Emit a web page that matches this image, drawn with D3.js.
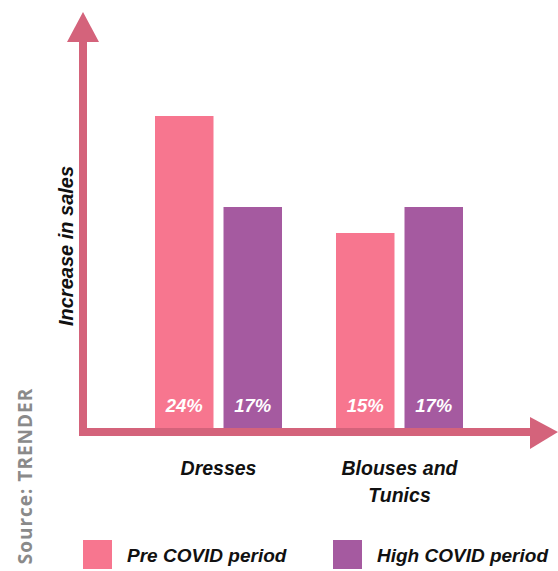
<!DOCTYPE html>
<html>
<head>
<meta charset="utf-8">
<script src="https://cdn.jsdelivr.net/npm/d3@7"></script>
<style>
  html, body { margin: 0; padding: 0; background: #fff; }
  svg { display: block; }
</style>
</head>
<body>
<svg id="chart" width="558" height="571"></svg>
<script>
// Sales growth per clothing category, before and during COVID
const categories = ["Dresses", "Blouses and Tunics"];
const categoryLines = [["Dresses"], ["Blouses and", "Tunics"]];
const seriesNames = ["Pre COVID period", "High COVID period"];
const preValues = [24, 15];
const highValues = [17, 17];
const colors = ["#F7768F", "#A55AA0"];
const axisColor = "#D4637B";

const svg = d3.select("#chart");
const font = "'Liberation Sans', Arial, sans-serif";

const baseY = 428;
const y = d3.scaleLinear().domain([0, 24]).range([baseY, 116]);
const x0 = d3.scaleBand().domain(categories).range([155, 463]).paddingInner(0.2983).paddingOuter(0);
const x1 = d3.scaleBand().domain(seriesNames).range([0, x0.bandwidth()]).paddingInner(0.146);

const rows = categories.map((c, i) => ({
  category: c,
  values: [
    { series: seriesNames[0], value: preValues[i], color: colors[0] },
    { series: seriesNames[1], value: highValues[i], color: colors[1] }
  ]
}));

// Bars
const groups = svg.selectAll("g.cat").data(rows).join("g")
  .attr("class", "cat")
  .attr("transform", d => `translate(${x0(d.category)},0)`);

groups.selectAll("rect").data(d => d.values).join("rect")
  .attr("x", d => x1(d.series))
  .attr("width", x1.bandwidth())
  .attr("y", d => y(d.value))
  .attr("height", d => baseY - y(d.value))
  .attr("fill", d => d.color);

// Value labels inside bars
groups.selectAll("text.val").data(d => d.values).join("text")
  .attr("class", "val")
  .attr("x", d => x1(d.series) + x1.bandwidth() / 2)
  .attr("y", 412)
  .attr("text-anchor", "middle")
  .attr("font-family", font)
  .attr("font-weight", "bold")
  .attr("font-style", "italic")
  .attr("font-size", 18.5)
  .attr("fill", "#fff")
  .text(d => d.value + "%");

// Axes with arrowheads
svg.append("rect").attr("x", 79).attr("y", 40).attr("width", 8).attr("height", 396).attr("fill", axisColor);
svg.append("path").attr("d", "M67,42 L83,12 L99,42 Z").attr("fill", axisColor);
svg.append("rect").attr("x", 79).attr("y", 428).attr("width", 455).attr("height", 8).attr("fill", axisColor);
svg.append("path").attr("d", "M530,417 L558,432 L530,449 Z").attr("fill", axisColor);

// Category labels
categories.forEach((c, i) => {
  const cx = x0(c) + x0.bandwidth() / 2;
  const t = svg.append("text")
    .attr("text-anchor", "middle")
    .attr("font-family", font)
    .attr("font-weight", "bold")
    .attr("font-style", "italic")
    .attr("font-size", 19.5)
    .attr("fill", "#111");
  categoryLines[i].forEach((line, j) => {
    t.append("tspan").attr("x", cx).attr("y", 475 + j * 27).text(line);
  });
});

// Y axis title
svg.append("text")
  .attr("transform", "translate(73,246) rotate(-90)")
  .attr("text-anchor", "middle")
  .attr("font-family", font)
  .attr("font-weight", "bold")
  .attr("font-style", "italic")
  .attr("font-size", 20)
  .attr("fill", "#111")
  .text("Increase in sales");

// Source note
svg.append("text")
  .attr("transform", "translate(32,476) rotate(-90)")
  .attr("text-anchor", "middle")
  .attr("font-family", "'Open Sans', sans-serif")
  .attr("font-weight", "bold")
  .attr("font-size", 19)
  .attr("letter-spacing", 1)
  .attr("fill", "#8a8a8a")
  .text("Source: TRENDER");

// Legend
const legendX = [83, 333];
seriesNames.forEach((s, i) => {
  svg.append("rect").attr("x", legendX[i]).attr("y", 540).attr("width", 29).attr("height", 29).attr("fill", colors[i]);
  svg.append("text")
    .attr("x", legendX[i] + 44)
    .attr("y", 562)
    .attr("font-family", font)
    .attr("font-weight", "bold")
    .attr("font-style", "italic")
    .attr("font-size", 19)
    .attr("fill", "#111")
    .text(s);
});
</script>
</body>
</html>
